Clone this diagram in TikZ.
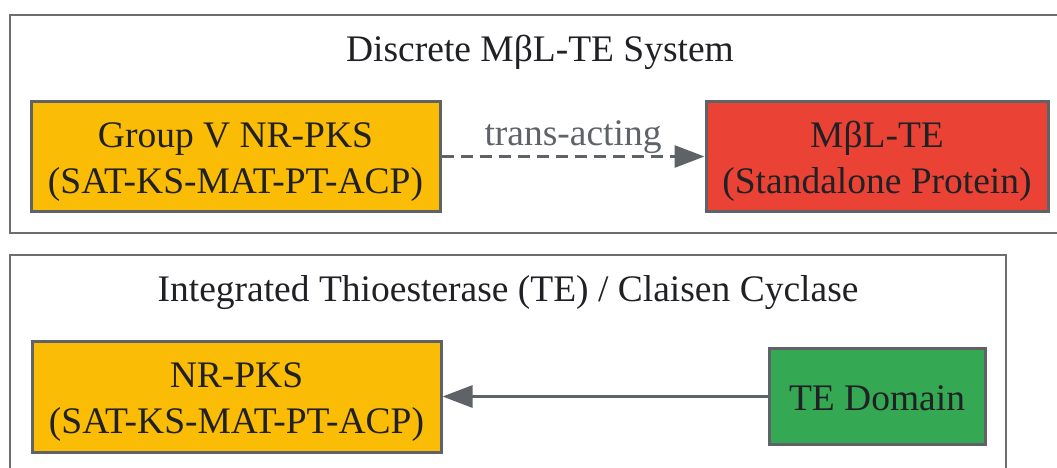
\documentclass[tikz,border=0pt]{standalone}
\usepackage{fontspec}
\setmainfont{Liberation Serif}
\usetikzlibrary{positioning}
\usetikzlibrary{arrows.meta}
\definecolor{pksyellow}{HTML}{FBBC05}
\definecolor{tered}{HTML}{EA4335}
\definecolor{tegreen}{HTML}{34A853}
\definecolor{edgegray}{HTML}{5F6368}
\definecolor{framegray}{HTML}{6B6D70}
\definecolor{inkdark}{HTML}{202124}
\tikzset{every picture/.style={x=1pt,y=-1pt,line width=3pt},
  dombox/.style={draw=edgegray,text=inkdark,align=center,font=\fontsize{37.5}{46}\selectfont},
  twoline/.style={text height=80pt,text depth=7pt},
  oneline/.style={text height=28pt,text depth=0pt},
  panel/.style={draw=framegray,line width=2.5pt},
  paneltitle/.style={text=inkdark,font=\fontsize{37.5}{46}\selectfont},
  link/.style={draw=edgegray,-{Triangle[length=30pt,width=22pt]}}}

\begin{document}
\begin{tikzpicture}
\useasboundingbox (0,0) rectangle (1057,467);

\node (sys1) [panel, minimum width=1060pt, minimum height=218pt] at (540,124) {};
\node (t1) [paneltitle] at (540,52) {Discrete MβL-TE System};
\node (gv) [dombox, twoline, fill=pksyellow, minimum width=409pt, minimum height=110pt] at (235.5,156.5) {Group V NR-PKS\\(SAT-KS-MAT-PT-ACP)};
\node (mbl) [dombox, twoline, fill=tered, minimum width=342pt, minimum height=110pt] at (877,156.5) {MβL-TE\\(Standalone Protein)};

\node (sys2) [panel, minimum width=996pt, minimum height=226pt] at (508,368) {};
\node (t2) [paneltitle] at (508,293) {Integrated Thioesterase (TE) / Claisen Cyclase};
\node (nr) [dombox, twoline, fill=pksyellow, minimum width=409pt, minimum height=111pt] at (236.5,396.5) {NR-PKS\\(SAT-KS-MAT-PT-ACP)};
\node (te) [dombox, oneline, fill=tegreen, minimum width=216pt, minimum height=96pt] at (877,396.5) {TE Domain};

\draw[link, dash pattern=on 12pt off 7pt] (gv) -- (mbl) node [midway, above, inner sep=1pt, text=edgegray, font=\fontsize{37.5}{46}\selectfont] {trans-acting};
\draw[link] (te) -- (nr);
\end{tikzpicture}
\end{document}
